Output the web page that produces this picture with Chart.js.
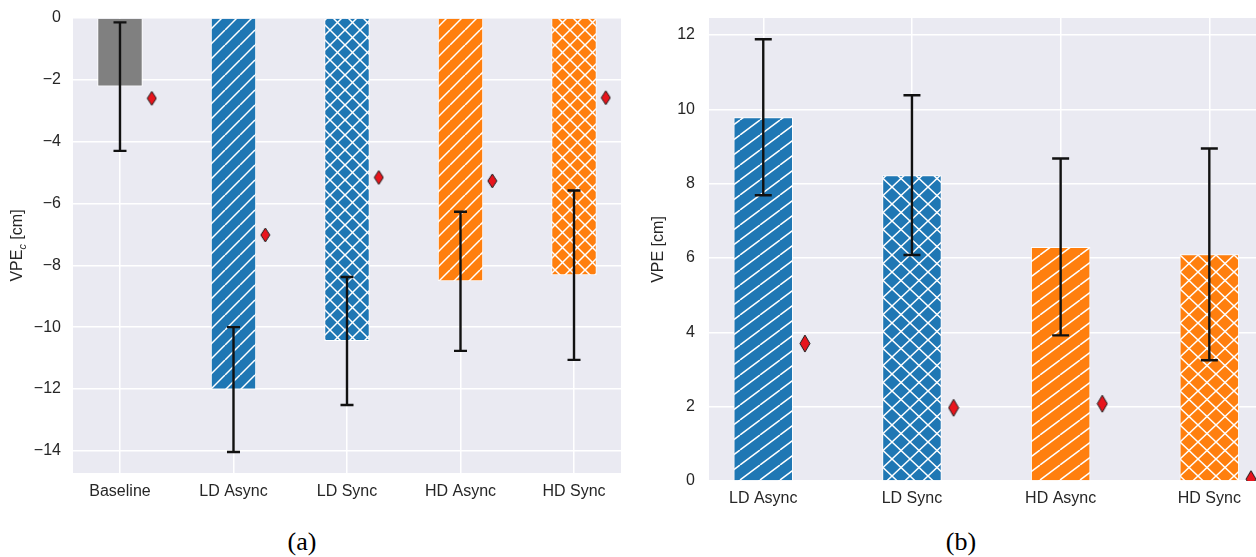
<!DOCTYPE html>
<html>
<head>
<meta charset="utf-8">
<script src="https://cdn.jsdelivr.net/npm/chart.js@4.4.1/dist/chart.umd.min.js"></script>
<style>
  html, body { margin: 0; padding: 0; background: #fff; overflow: hidden; }
  body { width: 1256px; height: 557px; position: relative; }
  canvas { position: absolute; top: 0; }
  #chartA { left: 0; }
  #chartB { left: 640px; }
  .cap { position: absolute; top: 529px; font-family: "Liberation Serif", "Times New Roman", serif;
         font-size: 26px; line-height: 1; transform: translateX(-50%); color: #000; }
</style>
</head>
<body>
<canvas id="chartA" width="640" height="520"></canvas>
<canvas id="chartB" width="640" height="520"></canvas>
<div class="cap" style="left:302px">(a)</div>
<div class="cap" style="left:961px">(b)</div>

<script>
// panel (a): VPE_c
const labelsA = ['Baseline', 'LD Async', 'LD Sync', 'HD Async', 'HD Sync'];
const meanA = [-2.22, -12.02, -10.45, -8.52, -8.32];
const errA = [2.08, 2.02, 2.07, 2.25, 2.74];
const markA = [-2.60, -7.02, -5.16, -5.27, -2.58];
const ticksA = [0, -2, -4, -6, -8, -10, -12, -14];

// panel (b): VPE
const labelsB = ['LD Async', 'LD Sync', 'HD Async', 'HD Sync'];
const meanB = [9.79, 8.23, 6.30, 6.10];
const errB = [2.10, 2.15, 2.38, 2.85];
const markB = [3.70, 1.97, 2.08, 0.05];
const ticksB = [0, 2, 4, 6, 8, 10, 12];

const BLUE = '#1f77b4', ORANGE = '#ff7f0e', GREY = '#808080';
const FONT = '"Liberation Sans", Arial, sans-serif';
const markerShift = 0.28;

function hatch(color, kind, w, h) {
  if (kind === 'none') return color;
  const c = document.createElement('canvas');
  c.width = w; c.height = h;
  const g = c.getContext('2d');
  g.fillStyle = color;
  g.fillRect(0, 0, w, h);
  g.strokeStyle = '#fff';
  g.lineWidth = 1.5;
  const line = (x0, y0, x1, y1) => { g.beginPath(); g.moveTo(x0, y0); g.lineTo(x1, y1); g.stroke(); };
  for (const dx of [-w, 0, w]) {
    line(dx, h, dx + w, 0);
    if (kind === 'x') line(dx, 0, dx + w, h);
  }
  return g.createPattern(c, 'repeat');
}

function diamond(w, h) {
  const c = document.createElement('canvas');
  c.width = w + 2; c.height = h + 2;
  const g = c.getContext('2d');
  g.beginPath();
  g.moveTo(c.width / 2, 1);
  g.lineTo(c.width - 1, c.height / 2);
  g.lineTo(c.width / 2, c.height - 1);
  g.lineTo(1, c.height / 2);
  g.closePath();
  g.fillStyle = '#e8141c';
  g.fill();
  g.strokeStyle = '#1a1a1a';
  g.lineWidth = 1;
  g.stroke();
  return c;
}

const bgPlugin = {
  id: 'bg',
  beforeDraw(chart) {
    const { ctx, chartArea: a } = chart;
    ctx.save();
    ctx.fillStyle = '#eaeaf2';
    ctx.fillRect(a.left, a.top, a.width, a.height);
    ctx.restore();
  }
};

function errPlugin(mean, err, cap) {
  return {
    id: 'errbars',
    afterDatasetsDraw(chart) {
      const { ctx, scales: { x, y } } = chart;
      ctx.save();
      ctx.strokeStyle = '#111';
      ctx.lineWidth = 2.4;
      mean.forEach((m, i) => {
        const px = x.getPixelForValue(i);
        const top = y.getPixelForValue(m + err[i]);
        const bot = y.getPixelForValue(m - err[i]);
        ctx.beginPath();
        ctx.moveTo(px, top); ctx.lineTo(px, bot);
        ctx.moveTo(px - cap / 2, top); ctx.lineTo(px + cap / 2, top);
        ctx.moveTo(px - cap / 2, bot); ctx.lineTo(px + cap / 2, bot);
        ctx.stroke();
      });
      ctx.restore();
    }
  };
}

// y title drawn by hand so VPE_c can get its subscript
function titlePlugin(cx, parts) {
  return {
    id: 'ytitle',
    afterDraw(chart) {
      const { ctx, chartArea: a } = chart;
      ctx.save();
      ctx.translate(cx, (a.top + a.bottom) / 2);
      ctx.rotate(-Math.PI / 2);
      ctx.fillStyle = '#262626';
      ctx.textBaseline = 'middle';
      let total = 0;
      parts.forEach(p => { ctx.font = p.font; total += ctx.measureText(p.text).width; });
      let xx = -total / 2;
      parts.forEach(p => {
        ctx.font = p.font;
        ctx.fillText(p.text, xx, p.dy || 0);
        xx += ctx.measureText(p.text).width;
      });
      ctx.restore();
    }
  };
}

function makeChart(id, o) {
  const n = o.labels.length;
  return new Chart(document.getElementById(id), {
    type: 'bar',
    data: {
      datasets: [
        {
          data: o.mean.map((v, i) => ({ x: i, y: v })),
          backgroundColor: o.fills,
          borderColor: '#ffffff',
          borderWidth: 1,
          barPercentage: 0.4,
          categoryPercentage: 1
        },
        {
          type: 'scatter',
          data: o.marks.map((v, i) => ({ x: i + markerShift, y: v })),
          pointStyle: o.marker,
          pointRadius: 8,
          clip: 0
        }
      ]
    },
    options: {
      responsive: false,
      animation: false,
      events: [],
      layout: { padding: { left: 0, right: o.padRight, top: o.padTop, bottom: 0 } },
      plugins: { legend: { display: false }, tooltip: { enabled: false } },
      scales: {
        x: {
          type: 'linear',
          offset: false,
          min: -o.pad,
          max: n - 1 + o.pad,
          grid: { color: '#ffffff', lineWidth: 1.5, offset: false, drawTicks: false },
          border: { display: false },
          afterBuildTicks: ax => { ax.ticks = o.labels.map((_, i) => ({ value: i })); },
          afterFit: ax => { ax.height = o.xAxisH; },
          ticks: {
            callback: v => o.labels[v],
            color: '#262626',
            font: { family: FONT, size: 16 },
            padding: o.xPad,
            maxRotation: 0,
            autoSkip: false
          }
        },
        y: {
          min: o.yMin,
          max: o.yMax,
          grid: { color: '#ffffff', lineWidth: 1.5, drawTicks: false },
          border: { display: false },
          afterBuildTicks: ax => { ax.ticks = o.ticks.map(v => ({ value: v })); },
          afterFit: ax => { ax.width = o.yAxisW; ax.paddingTop = 0; ax.paddingBottom = 0; },
          ticks: {
            callback: v => String(v).replace('-', '\u2212'),
            color: '#262626',
            font: { family: FONT, size: 16 },
            padding: o.yPad
          }
        }
      }
    },
    plugins: [bgPlugin, errPlugin(o.mean, o.err, o.cap), titlePlugin(o.titleX, o.title)]
  });
}

makeChart('chartA', {
  labels: labelsA, mean: meanA, err: errA, marks: markA, ticks: ticksA,
  fills: [hatch(GREY, 'none'), hatch(BLUE, '/', 15, 15), hatch(BLUE, 'x', 15, 15),
          hatch(ORANGE, '/', 15, 15), hatch(ORANGE, 'x', 15, 15)],
  marker: diamond(9, 14),
  yMin: -14.72, yMax: 0, pad: 0.414,
  padTop: 18, padRight: 19, yAxisW: 73, xAxisH: 47, xPad: 9, yPad: 12, cap: 13,
  titleX: 18,
  title: [
    { text: 'VPE', font: '16px ' + FONT },
    { text: 'c', font: 'italic 11px ' + FONT, dy: 5 },
    { text: ' [cm]', font: '16px ' + FONT }
  ]
});

makeChart('chartB', {
  labels: labelsB, mean: meanB, err: errB, marks: markB, ticks: ticksB,
  fills: [hatch(BLUE, '/', 20, 15), hatch(BLUE, 'x', 18, 17),
          hatch(ORANGE, '/', 20, 15), hatch(ORANGE, 'x', 18, 17)],
  marker: diamond(10, 17),
  yMin: 0, yMax: 12.46, pad: 0.365,
  padTop: 18, padRight: 16.4, yAxisW: 69, xAxisH: 39, xPad: 8, yPad: 14, cap: 17,
  titleX: 19,
  title: [{ text: 'VPE [cm]', font: '16px ' + FONT }]
});
</script>
</body>
</html>
